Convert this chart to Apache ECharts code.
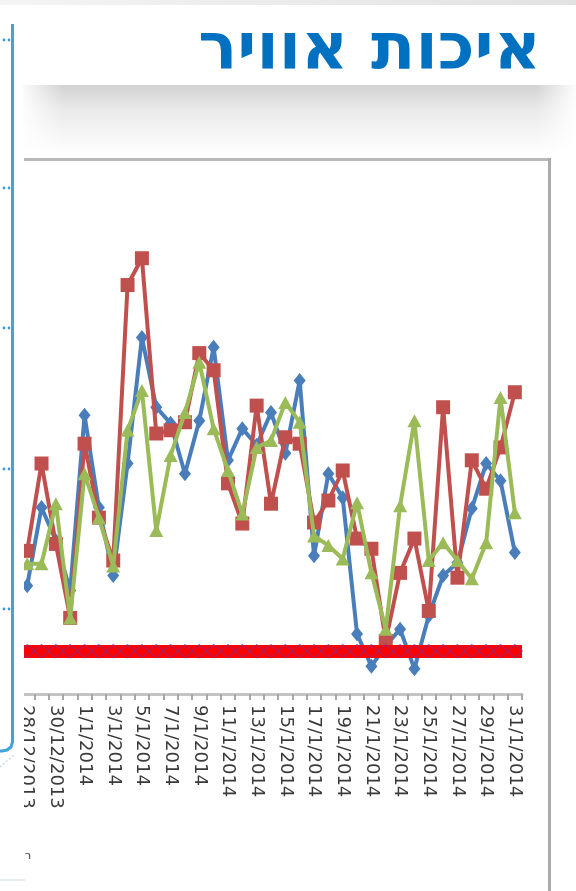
<!DOCTYPE html>
<html>
<head>
<meta charset="utf-8">
<script src="https://cdn.jsdelivr.net/npm/echarts@6/dist/echarts.min.js"></script>
<style>
html,body{margin:0;padding:0;background:#fff;}
#chart{width:576px;height:891px;}
</style>
</head>
<body>
<div id="chart"></div>
<script>
// ---- data ----
const titleText = 'איכות אוויר';
const categories = [
  '28/12/2013','29/12/2013','30/12/2013','31/12/2013',
  '1/1/2014','2/1/2014','3/1/2014','4/1/2014','5/1/2014','6/1/2014','7/1/2014','8/1/2014',
  '9/1/2014','10/1/2014','11/1/2014','12/1/2014','13/1/2014','14/1/2014','15/1/2014','16/1/2014',
  '17/1/2014','18/1/2014','19/1/2014','20/1/2014','21/1/2014','22/1/2014','23/1/2014','24/1/2014',
  '25/1/2014','26/1/2014','27/1/2014','28/1/2014','29/1/2014','30/1/2014','31/1/2014'
];
const blueValues = [20.2,34.8,28.6,19.3,52.0,34.8,22.1,43.0,66.5,53.5,50.5,41.1,51.0,64.7,43.6,49.5,46.4,52.5,44.9,58.5,25.8,41.1,36.6,11.2,5.2,9.0,12.1,4.7,14.6,22.1,24.5,34.6,43.0,39.8,26.4];
const redValues = [26.7,43.0,28.0,14.2,46.7,32.9,24.9,76.3,81.3,48.6,49.2,50.7,63.6,60.4,39.3,31.8,53.8,35.5,47.9,46.7,32.0,36.1,41.7,29.0,27.1,9.9,22.6,29.0,15.5,53.5,21.7,43.6,38.3,46.0,56.3];
const greenValues = [24.3,24.3,35.5,14.2,41.1,32.9,23.9,49.2,56.6,30.5,44.5,52.5,61.9,49.5,41.7,33.6,46.0,47.3,54.4,50.7,29.5,27.7,25.2,35.7,22.6,12.1,35.1,51.0,24.9,28.2,24.9,21.5,28.2,55.3,33.8];
const thresholdValue = 8;
const thresholdValues = categories.map(() => thresholdValue);

const chart = echarts.init(document.getElementById('chart'), null, {renderer: 'canvas'});

const dotTicks = [40, 188, 328, 469, 609];
const dotGraphics = [];
dotTicks.forEach(function (y) {
  dotGraphics.push({type: 'circle', z: 110, shape: {cx: 4, cy: y, r: 1.4}, style: {fill: '#3a9ad9'}});
  dotGraphics.push({type: 'circle', z: 110, shape: {cx: 9, cy: y, r: 1.4}, style: {fill: '#3a9ad9'}});
});

const option = {
  backgroundColor: '#ffffff',
  animation: false,
  title: {
    text: titleText,
    right: 35,
    top: 20,
    padding: 0,
    textStyle: {fontFamily: 'DejaVu Sans', fontWeight: 'bold', fontSize: 65, color: '#0070C0'}
  },
  grid: {left: 20, right: 54, top: 158, bottom: 197},
  xAxis: {
    type: 'category',
    data: categories,
    boundaryGap: true,
    axisLine: {lineStyle: {color: '#c4c4c4', width: 3}},
    axisTick: {show: true, interval: 0, length: 6, lineStyle: {color: '#a8a8a8', width: 2}},
    axisLabel: {interval: 1, rotate: -90, margin: 11, fontFamily: 'DejaVu Sans', fontSize: 18, color: '#3a3a3a'},
    splitLine: {show: false}
  },
  yAxis: {type: 'value', min: 0, max: 100, show: false},
  series: [
    {
      type: 'line', data: blueValues, symbol: 'diamond', symbolSize: [12, 15], showAllSymbol: true,
      lineStyle: {color: '#4A7EBB', width: 4}, itemStyle: {color: '#4A7EBB'}, z: 2
    },
    {
      type: 'line', data: redValues, symbol: 'rect', symbolSize: 14, showAllSymbol: true,
      lineStyle: {color: '#C0504D', width: 4}, itemStyle: {color: '#C0504D'}, z: 3
    },
    {
      type: 'line', data: greenValues, symbol: 'triangle', symbolSize: [14, 13], showAllSymbol: true,
      lineStyle: {color: '#9BBB59', width: 4}, itemStyle: {color: '#9BBB59'}, z: 4
    },
    {
      type: 'line', data: thresholdValues, symbol: 'diamond', symbolSize: [15, 13], showAllSymbol: true,
      lineStyle: {opacity: 0},
      itemStyle: {color: '#ff0000', borderColor: 'rgba(120,50,150,0.55)', borderWidth: 1.5},
      z: 6,
      markLine: {
        silent: true, symbol: 'none', label: {show: false},
        lineStyle: {color: '#ff0000', width: 13, type: 'solid'},
        data: [{yAxis: thresholdValue}],
        z: 5
      }
    }
  ],
  graphic: [
    {type: 'rect', z: 0, shape: {x: 0, y: 0, width: 576, height: 5},
     style: {fill: new echarts.graphic.LinearGradient(0, 0, 1, 0, [{offset: 0, color: '#f4f4f4'}, {offset: 1, color: '#e2e2e2'}])}},
    {type: 'rect', z: 0, shape: {x: 23, y: 85, width: 553, height: 68},
     style: {fill: new echarts.graphic.LinearGradient(0, 0, 0, 1, [{offset: 0, color: '#d2d2d2'}, {offset: 0.35, color: '#e9e9e9'}, {offset: 1, color: '#ffffff'}])}},
    {type: 'rect', z: 1, shape: {x: 23, y: 85, width: 40, height: 68},
     style: {fill: new echarts.graphic.LinearGradient(0, 0, 1, 0, [{offset: 0, color: 'rgba(255,255,255,0.9)'}, {offset: 1, color: 'rgba(255,255,255,0)'}])}},
    {type: 'rect', z: 1, shape: {x: 536, y: 85, width: 40, height: 68},
     style: {fill: new echarts.graphic.LinearGradient(0, 0, 1, 0, [{offset: 0, color: 'rgba(255,255,255,0)'}, {offset: 1, color: 'rgba(255,255,255,0.95)'}])}},
    {type: 'line', z: 50, shape: {x1: 24, y1: 159.5, x2: 550, y2: 159.5}, style: {stroke: '#b9b9b9', lineWidth: 3}},
    {type: 'line', z: 50, shape: {x1: 549.5, y1: 158, x2: 549.5, y2: 891}, style: {stroke: '#ababab', lineWidth: 3}},
    {type: 'rect', z: 100, shape: {x: 0, y: 150, width: 24, height: 741}, style: {fill: '#ffffff'}},
    {type: 'polyline', z: 110, shape: {points: [[12.5, 24], [12.5, 742], [11, 747], [7, 750], [2, 751], [0, 751]]},
     style: {stroke: '#42a2de', lineWidth: 3, fill: null}},
    {type: 'line', z: 110, shape: {x1: 0, y1: 767, x2: 14, y2: 755}, style: {stroke: '#c9dcea', lineWidth: 1.5, lineDash: [2, 2]}},
    {type: 'line', z: 110, shape: {x1: 0, y1: 880, x2: 25, y2: 880}, style: {stroke: '#e6edf3', lineWidth: 2}},
    {type: 'text', z: 110, style: {text: 'ר', x: 25, y: 851, fontSize: 11, fontFamily: 'DejaVu Sans', fill: '#333'}}
  ].concat(dotGraphics)
};
chart.setOption(option);
</script>
</body>
</html>
